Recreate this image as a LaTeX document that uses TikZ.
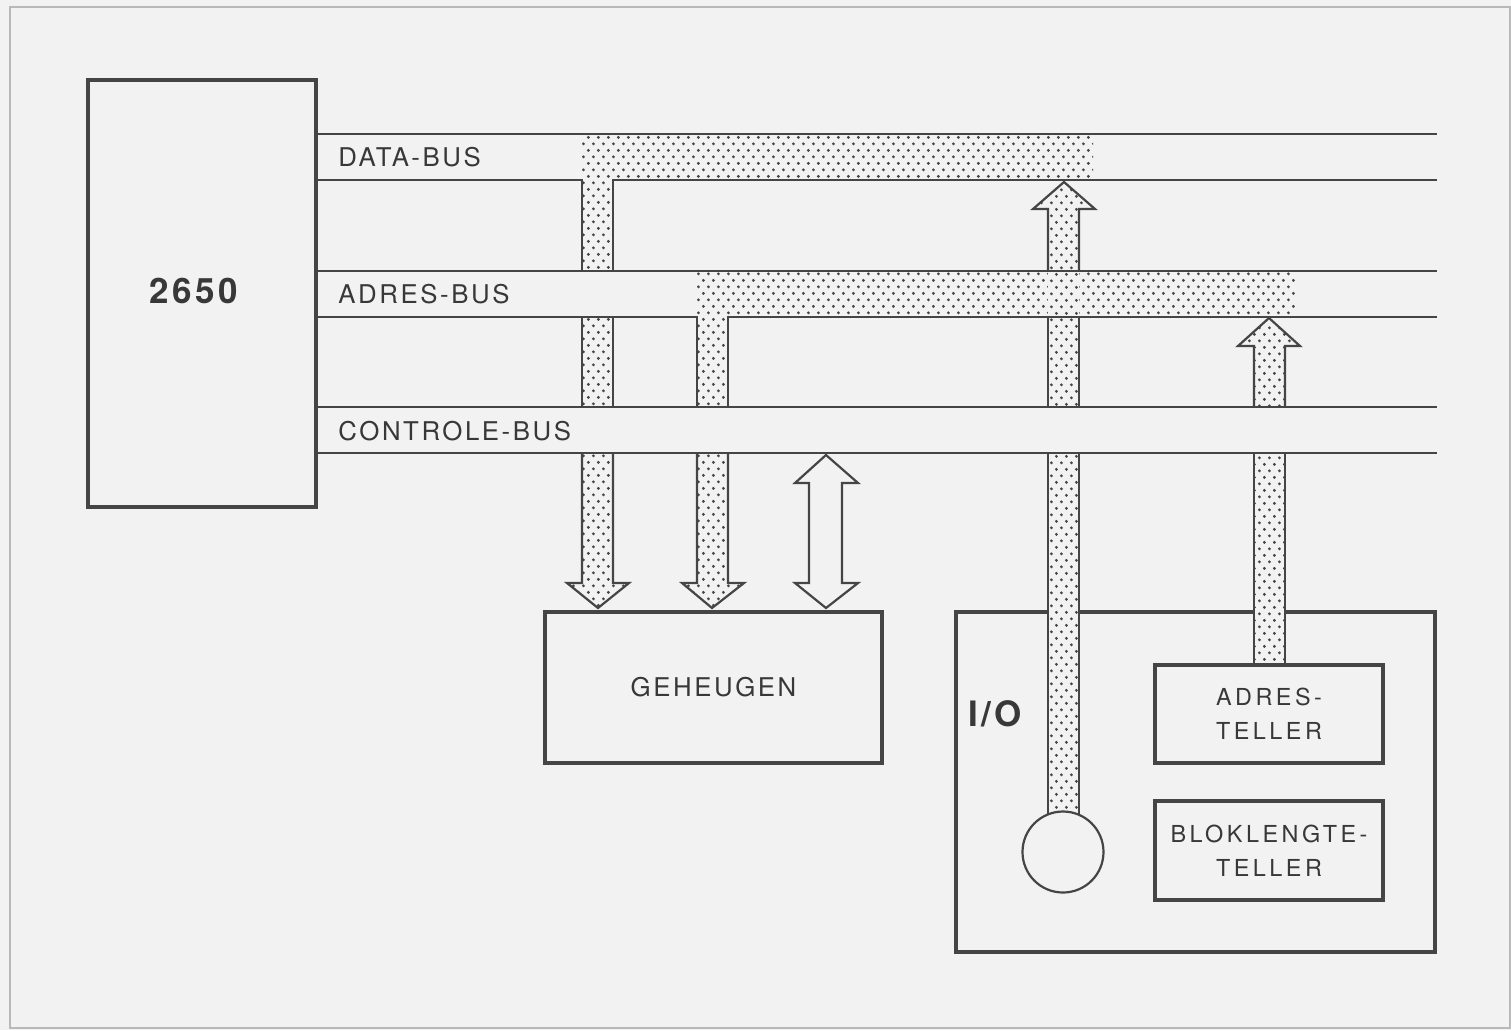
\documentclass[tikz,border=0pt]{standalone}
\usepackage{fontspec}
\setmainfont{TeX Gyre Heros}
\newfontfamily\busfont[LetterSpace=10]{TeX Gyre Heros}
\newfontfamily\tellfont[LetterSpace=15]{TeX Gyre Heros}
\newfontfamily\bigfont[LetterSpace=10]{TeX Gyre Heros}
\usetikzlibrary{patterns}
\definecolor{bgc}{HTML}{F2F2F2}
\definecolor{ink}{HTML}{454545}
\definecolor{txt}{HTML}{383838}
\pgfdeclarepatternformonly{stip}{\pgfpointorigin}{\pgfpoint{5.2pt}{6.7pt}}{\pgfpoint{5.2pt}{6.7pt}}{%
  \pgfpathcircle{\pgfpoint{1.3pt}{1.675pt}}{0.8pt}%
  \pgfpathcircle{\pgfpoint{3.9pt}{5.025pt}}{0.8pt}%
  \pgfusepath{fill}}
\tikzset{
  bus/.style={draw=ink, line width=1.1pt, line join=miter},
  heavy/.style={draw=ink, line width=1.6pt, inner sep=0pt},
  stip/.style={preaction={fill=bgc}, pattern=stip, pattern color=ink},
  busl/.style={font=\busfont\fontsize{12.9}{15}\selectfont, text=txt, anchor=west, inner sep=0pt},
  tell/.style={heavy, fill=bgc, minimum width=114pt, align=center, text=txt,
    font=\tellfont\fontsize{11.7}{16.8}\selectfont},
  big/.style={font=\bigfont\bfseries\fontsize{17.5}{20}\selectfont, text=txt, inner sep=0pt}
}
\begin{document}
\begin{tikzpicture}[x=0.5pt,y=-0.5pt]
\fill[bgc] (0,0) rectangle (1511,1030);
\useasboundingbox (0,0) rectangle (1511,1030);
\draw[gray!55, line width=0.7pt] (10,7) rectangle (1510,1028);

% I/O box (drawn first, shafts pass over its top edge)
\node[heavy, minimum width=239.5pt, minimum height=170pt] (io) at (1195.5,782) {};

% stippled bus paths and shafts
\path[stip] (582,134) -- (1093,134) -- (1093,180) -- (613,180) -- (613,583) -- (629,583) -- (598,608) -- (567,583) -- (582,583) -- cycle;
\path[stip] (697,271) -- (1296,271) -- (1296,317) -- (728,317) -- (728,583) -- (744,583) -- (712,608) -- (682,583) -- (697,583) -- cycle;
\path[stip] (1048,830) -- (1048,209) -- (1033,209) -- (1064,182) -- (1095,209) -- (1079,209) -- (1079,830) -- cycle;
\path[stip] (1254,665) -- (1254,346) -- (1238,346) -- (1269,318) -- (1300,346) -- (1285,346) -- (1285,665) -- cycle;

% shafts pass under the plain bus bands
\fill[bgc] (316,407) rectangle (1437,453);
\fill[bgc] (316,271) rectangle (697,317);

% data bus
\draw[bus] (316,134) -- (1437,134);
\draw[bus] (316,180) -- (582,180) -- (582,271);
\draw[bus] (1437,180) -- (613,180) -- (613,271);
% address bus
\draw[bus] (316,271) -- (1437,271);
\draw[bus] (316,317) -- (697,317) -- (697,407);
\draw[bus] (1437,317) -- (728,317) -- (728,407);
\draw[bus] (582,317) -- (582,407) (613,317) -- (613,407);
% control bus
\draw[bus] (316,407) -- (1437,407);
\draw[bus] (316,453) -- (1437,453);

% arrows to memory
\draw[bus] (582,453) -- (582,583) -- (567,583) -- (598,608) -- (629,583) -- (613,583) -- (613,453);
\draw[bus] (697,453) -- (697,583) -- (682,583) -- (712,608) -- (744,583) -- (728,583) -- (728,453);
\draw[bus, fill=bgc] (826,455) -- (858,483) -- (842,483) -- (842,583) -- (858,583) -- (826,608) -- (795,583) -- (809,583) -- (809,483) -- (795,483) -- cycle;

% I/O data arrow
\draw[bus] (1048,271) -- (1048,209) -- (1033,209) -- (1064,182) -- (1095,209) -- (1079,209) -- (1079,271);
\draw[bus] (1048,317) -- (1048,407) (1079,317) -- (1079,407);
\draw[bus] (1048,453) -- (1048,822) (1079,453) -- (1079,822);
% address counter arrow
\draw[bus] (1254,407) -- (1254,346) -- (1238,346) -- (1269,318) -- (1300,346) -- (1285,346) -- (1285,407);
\draw[bus] (1254,453) -- (1254,665) (1285,453) -- (1285,665);

\node[draw=ink, line width=1.1pt, fill=bgc, circle, minimum size=40.5pt, inner sep=0pt] (disk) at (1063,852) {};

% boxes
\node[heavy, minimum width=114pt, minimum height=213.5pt] (cpu) at (202,293.5) {};
\node[big] (cpulbl) at (194,291) {2650};
\node[heavy, minimum width=168.5pt, minimum height=75.5pt, text=txt, font=\busfont\fontsize{12.9}{15}\selectfont] (mem) at (713.5,687.5) {GEHEUGEN};
\node[tell, minimum height=49pt] (adres) at (1269,714) {ADRES-\\TELLER};
\node[tell, minimum height=49.5pt] (blok) at (1269,850.5) {BLOKLENGTE-\\TELLER};
\node[big] (iolbl) at (995,714) {I/O};

% bus labels
\node[busl] (dlbl) at (338,157) {DATA-BUS};
\node[busl] (albl) at (338,294) {ADRES-BUS};
\node[busl] (clbl) at (338,431) {CONTROLE-BUS};
\end{tikzpicture}
\end{document}
